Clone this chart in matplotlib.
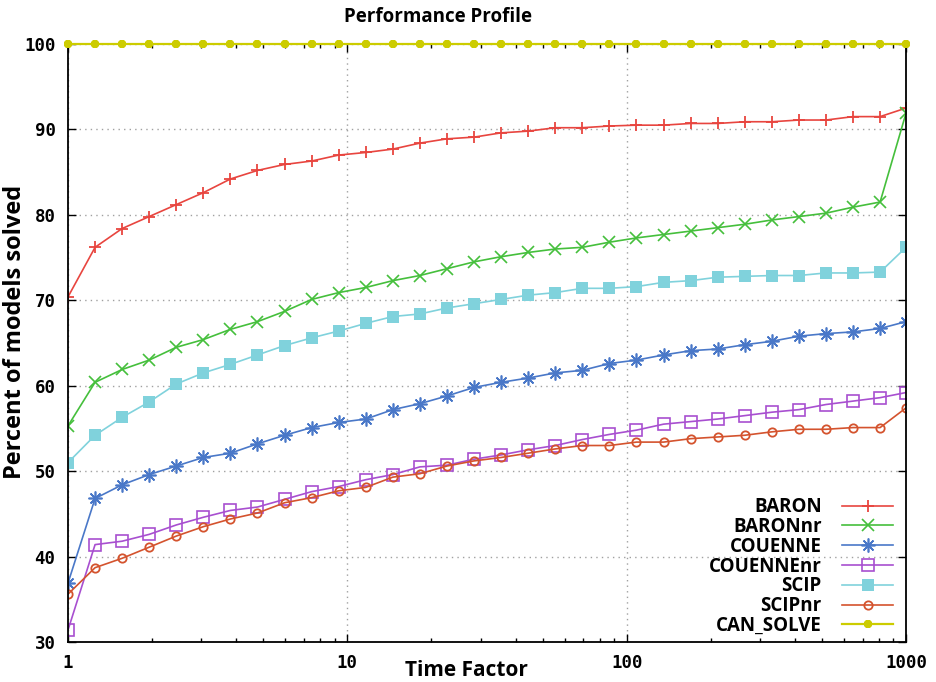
import numpy as np
import matplotlib.pyplot as plt
from matplotlib.ticker import FixedLocator, NullFormatter

# time factors: 1.25^k for k = 0..30, then 1000
factors = [1.25 ** k for k in range(31)] + [1000]

baron = [70.4, 76.2, 78.4, 79.8, 81.2, 82.6, 84.2, 85.2, 85.9, 86.3, 87.0, 87.3, 87.7, 88.4, 88.9,
         89.1, 89.6, 89.8, 90.2, 90.2, 90.4, 90.5, 90.5, 90.7, 90.7, 90.9, 90.9, 91.1, 91.1, 91.5, 91.5, 92.5]
baronnr = [55.3, 60.4, 61.9, 63.0, 64.5, 65.4, 66.6, 67.5, 68.7, 70.1, 70.9, 71.5, 72.3, 72.9, 73.7,
           74.5, 75.1, 75.6, 76.0, 76.2, 76.8, 77.3, 77.7, 78.1, 78.5, 78.9, 79.4, 79.8, 80.2, 80.9, 81.5, 91.9]
couenne = [36.9, 46.8, 48.4, 49.6, 50.6, 51.6, 52.1, 53.2, 54.2, 55.1, 55.7, 56.1, 57.2, 57.9, 58.8,
           59.8, 60.4, 60.9, 61.5, 61.8, 62.6, 63.0, 63.6, 64.1, 64.3, 64.8, 65.2, 65.8, 66.1, 66.3, 66.7, 67.5]
couennenr = [31.4, 41.4, 41.8, 42.6, 43.7, 44.6, 45.4, 45.8, 46.7, 47.6, 48.2, 49.0, 49.6, 50.5, 50.7,
             51.4, 51.9, 52.5, 53.0, 53.7, 54.3, 54.8, 55.5, 55.8, 56.1, 56.5, 56.9, 57.2, 57.8, 58.2, 58.6, 59.2]
scip = [51.0, 54.2, 56.3, 58.1, 60.2, 61.5, 62.5, 63.6, 64.7, 65.6, 66.4, 67.3, 68.1, 68.4, 69.1,
        69.6, 70.1, 70.6, 70.9, 71.4, 71.4, 71.6, 72.1, 72.3, 72.7, 72.8, 72.9, 72.9, 73.2, 73.2, 73.3, 76.2]
scipnr = [35.6, 38.7, 39.8, 41.1, 42.4, 43.5, 44.4, 45.1, 46.3, 46.9, 47.7, 48.1, 49.3, 49.7, 50.6,
          51.2, 51.6, 52.1, 52.6, 53.0, 53.0, 53.4, 53.4, 53.8, 54.0, 54.2, 54.6, 54.9, 54.9, 55.1, 55.1, 57.4]
can_solve = [100.0] * 32

fig = plt.figure(figsize=(9.36, 6.82), dpi=100)
ax = fig.add_axes([68 / 936, 1 - 642 / 682, (906 - 68) / 936, (642 - 44) / 682])

ax.plot(factors, baron, color='#e8453f', lw=1.2, marker='+', ms=9, mew=1.3, label='BARON')
ax.plot(factors, baronnr, color='#45bf3c', lw=1.2, marker='x', ms=9, mew=1.2, label='BARONnr')
ax.plot(factors, couenne, color='#4a78c8', lw=1.2, marker=(8, 2, 0), ms=10, mew=1.2, label='COUENNE')
ax.plot(factors, couennenr, color='#a84fd0', lw=1.2, marker='s', ms=8, mfc='none', mew=1.2, label='COUENNEnr')
ax.plot(factors, scip, color='#80d2dc', lw=1.2, marker='s', ms=8, mew=0, label='SCIP')
ax.plot(factors, scipnr, color='#d4532e', lw=1.2, marker='o', ms=6, mfc='none', mew=1.3, label='SCIPnr')
ax.plot(factors, can_solve, color='#cccc00', lw=1.6, marker='8', ms=6.5, mew=0, label='CAN_SOLVE',
        clip_on=False, zorder=5)

ax.set_xscale('log')
ax.set_xlim(1, 1000)
ax.set_ylim(30, 100)
ax.set_yticks([30, 40, 50, 60, 70, 80, 90, 100])
ax.xaxis.set_major_locator(FixedLocator([1, 10, 100, 1000]))
ax.set_xticklabels(['1', '10', '100', '1000'])
ax.xaxis.set_minor_formatter(NullFormatter())

ax.grid(True, which='major', color='#a0a0a0', linestyle=(0, (1, 3)), lw=1.0)
ax.tick_params(which='both', direction='in', top=True, right=True, width=1.0)
ax.tick_params(which='major', length=6, pad=9)
ax.tick_params(which='minor', length=3)
for sp in ax.spines.values():
    sp.set_linewidth(1.3)

for lab in ax.get_xticklabels() + ax.get_yticklabels():
    lab.set_family('DejaVu Sans Mono')
    lab.set_fontweight('bold')
    lab.set_fontsize(12.5)

fig.text(438 / 936, 1 - 17 / 682, 'Performance Profile', ha='center', va='center',
         fontsize=13.5, fontweight='bold', family='Open Sans')
fig.text(466 / 936, 1 - 671 / 682, 'Time Factor', ha='center', va='center',
         fontsize=15, fontweight='bold', family='Open Sans')
fig.text(15 / 936, 1 - 332 / 682, 'Percent of models solved', ha='center', va='center',
         rotation=90, fontsize=17, fontweight='bold', family='Open Sans')

leg = ax.legend(loc='lower right', bbox_to_anchor=(1.0, -0.012), frameon=False, markerfirst=False,
                prop={'family': 'Open Sans', 'weight': 'bold', 'size': 13.5},
                handlelength=2.7, handletextpad=1.1, labelspacing=-0.01, borderpad=0.2)

fig.savefig('out.png', dpi=100)
